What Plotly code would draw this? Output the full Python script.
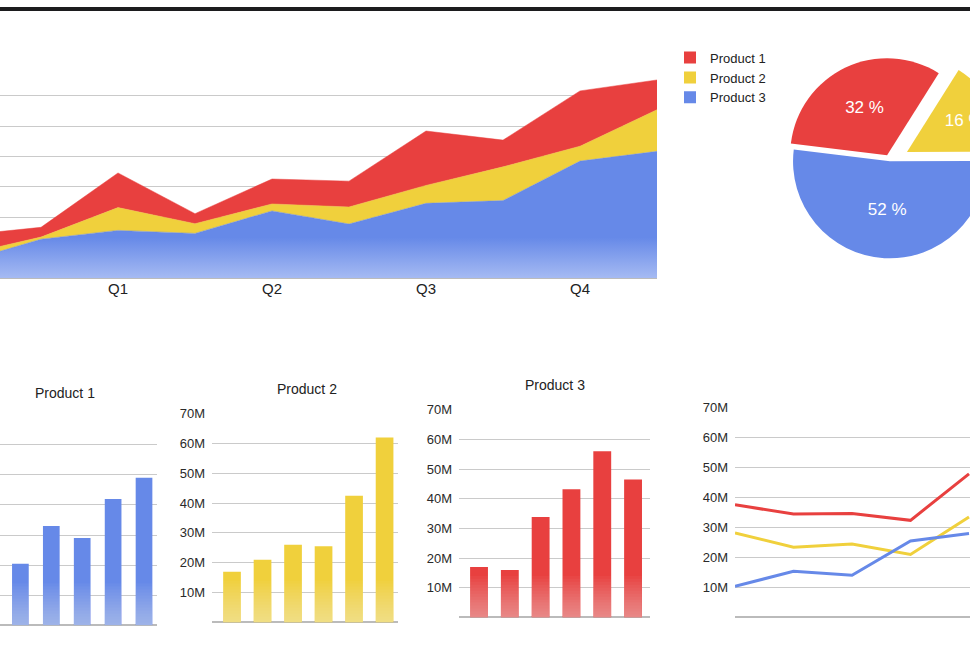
import plotly.graph_objects as go

# ---------------- data ----------------
RED = "#E8403F"
YELLOW = "#F0D03C"
BLUE = "#6689E8"

area_x = list(range(10))
quarter_ticks = [2, 4, 6, 8]
quarter_labels = ["Q1", "Q2", "Q3", "Q4"]
area_p3 = [5.3, 12.8, 15.7, 14.7, 22.1, 17.8, 24.6, 25.5, 38.5, 41.7]
area_p2 = [2.4, 0.7, 7.5, 3.2, 2.3, 5.6, 5.9, 11.1, 4.9, 13.7]
area_p1 = [6.4, 3.2, 11.4, 3.3, 8.2, 8.5, 17.9, 8.8, 18.2, 9.8]

pie_labels = ["Product 1", "Product 2", "Product 3"]
pie_values = [32, 16, 52]

bar_p1_x = [1, 2, 3, 4, 5]
bar_p1 = [20.5, 33, 29, 42, 49]
bar_x = [0, 1, 2, 3, 4, 5]
bar_p2 = [17, 21, 26, 25.5, 42.5, 62]
bar_p3 = [17, 16, 33.8, 43.2, 56, 46.5]

line_x = [0, 1, 2, 3, 4]
line_p1 = [37.6, 34.5, 34.7, 32.4, 47.9]
line_p2 = [28.2, 23.4, 24.5, 21.0, 33.5]
line_p3 = [10.4, 15.4, 14.1, 25.5, 28.0]

y_ticks = [10, 20, 30, 40, 50, 60, 70]
y_tick_labels = [f"{v}M" for v in y_ticks]

# ---------------- layout helpers ----------------
W, H = 1020, 658
FONT = "Liberation Sans, Arial, sans-serif"


def fx(px):
    return px / W


def fy(py):
    return 1 - py / H


GRID = "#CACACA"
ZERO = "#BBBBBB"

fig = go.Figure()

# ---------------- top stacked area ----------------
fig.add_trace(go.Scatter(x=area_x, y=area_p3, stackgroup="one", mode="lines",
                         line=dict(width=0.5, color=BLUE), fillcolor=BLUE,
                         fillgradient=dict(type="vertical", start=0, stop=14,
                                           colorscale=[[0, "#A9BDF3"], [1, BLUE]]),
                         showlegend=False, xaxis="x", yaxis="y", hoverinfo="skip"))
fig.add_trace(go.Scatter(x=area_x, y=area_p2, stackgroup="one", mode="lines",
                         line=dict(width=0.5, color=YELLOW), fillcolor=YELLOW,
                         showlegend=False, xaxis="x", yaxis="y", hoverinfo="skip"))
fig.add_trace(go.Scatter(x=area_x, y=area_p1, stackgroup="one", mode="lines",
                         line=dict(width=0.5, color=RED), fillcolor=RED,
                         showlegend=False, xaxis="x", yaxis="y", hoverinfo="skip"))

# ---------------- pie ----------------
pie_text = [f"{v} %" for v in pie_values]
PCX, PCY, PR, PULL = 890, 156, 98, 0.2
fig.add_trace(go.Pie(labels=pie_labels, values=pie_values, text=pie_text,
                     textinfo="text", sort=False, direction="clockwise",
                     rotation=-83, pull=[0.07, PULL, 0],
                     marker=dict(colors=[RED, YELLOW, BLUE]),
                     textfont=dict(color="white", size=17, family=FONT),
                     insidetextorientation="horizontal",
                     domain=dict(x=[fx(PCX - PR * (1 + PULL)), fx(PCX + PR * (1 + PULL))],
                                 y=[fy(PCY + PR * (1 + PULL)), fy(PCY - PR * (1 + PULL))]),
                     showlegend=True, hoverinfo="skip"))


# ---------------- bar charts ----------------
def add_bars(xs, vals, color, xa, ya, width):
    fig.add_trace(go.Bar(x=xs, y=vals, marker=dict(color=color, line=dict(width=0)),
                         width=width, xaxis=xa, yaxis=ya, showlegend=False,
                         hoverinfo="skip"))
    # lighter fade toward the base
    for k in range(1, 15):
        lvl = 1.0 * k
        fig.add_trace(go.Bar(x=xs, y=[min(v, lvl) for v in vals],
                             marker=dict(color="rgba(255,255,255,0.034)", line=dict(width=0)),
                             width=width, xaxis=xa, yaxis=ya, showlegend=False,
                             hoverinfo="skip"))


add_bars(bar_p1_x, bar_p1, BLUE, "x2", "y2", 0.54)
add_bars(bar_x, bar_p2, YELLOW, "x3", "y3", 0.58)
add_bars(bar_x, bar_p3, RED, "x4", "y4", 0.58)

# ---------------- line chart ----------------
for vals, color in [(line_p1, RED), (line_p2, YELLOW), (line_p3, BLUE)]:
    fig.add_trace(go.Scatter(x=line_x, y=vals, mode="lines",
                             line=dict(color=color, width=3),
                             xaxis="x5", yaxis="y5", showlegend=False, hoverinfo="skip"))

# ---------------- axes ----------------
common_y = dict(range=[0, 70.3], tickmode="array", tickvals=y_ticks, ticktext=y_tick_labels,
                showgrid=True, gridcolor=GRID, gridwidth=1.4, zeroline=True,
                zerolinecolor=ZERO, zerolinewidth=1.6, showline=False, ticks="",
                ticklabelstandoff=6, fixedrange=True,
                tickfont=dict(size=13, color="#2a2a2a", family=FONT))
common_x = dict(showgrid=False, zeroline=False, showline=False, showticklabels=False,
                ticks="", fixedrange=True)


def ydom(p0, p70):
    # pixel rows of 0 and 70 -> domain with the small headroom above 70
    top = p70 - (p0 - p70) * 0.3 / 70
    return [fy(p0), fy(top)]


fig.update_layout(
    width=W, height=H,
    margin=dict(l=0, r=0, t=0, b=0),
    paper_bgcolor="white", plot_bgcolor="rgba(0,0,0,0)",
    font=dict(family=FONT, color="#222222"),
    barmode="overlay",
    xaxis=dict(domain=[0, fx(657)], range=[0.4675, 9], tickvals=quarter_ticks,
               ticktext=quarter_labels, showgrid=False, zeroline=False, showline=False,
               ticks="", tickfont=dict(size=15, color="#222222", family=FONT),
               anchor="y", fixedrange=True),
    yaxis=dict(domain=ydom(274, 59), **{**common_y, "showticklabels": False}, anchor="x"),
    xaxis2=dict(domain=[0, fx(157)], range=[0.34, 5.42], anchor="y2", **common_x),
    yaxis2=dict(domain=ydom(625, 412), **{**common_y, "showticklabels": False}, anchor="x2"),
    xaxis3=dict(domain=[fx(212), fx(398)], range=[-0.656, 5.44], anchor="y3", **common_x),
    yaxis3=dict(domain=ydom(622, 411), **common_y, anchor="x3"),
    xaxis4=dict(domain=[fx(459), fx(650)], range=[-0.65, 5.55], anchor="y4", **common_x),
    yaxis4=dict(domain=ydom(617, 407), **common_y, anchor="x4"),
    xaxis5=dict(domain=[fx(735), fx(970)], range=[0, 4.017], anchor="y5", **common_x),
    yaxis5=dict(domain=ydom(617, 405), **common_y, anchor="x5"),
    legend=dict(x=fx(670), y=fy(36), xanchor="left", yanchor="top",
                traceorder="normal",
                font=dict(size=13, color="#222222", family=FONT),
                bgcolor="rgba(0,0,0,0)", itemclick=False, itemdoubleclick=False),
    shapes=[dict(type="rect", xref="paper", yref="paper", x0=0, x1=1,
                 y0=fy(4), y1=1, fillcolor="#1c1c1e", line=dict(width=0), layer="above")],
    annotations=[
        dict(text="Product 1", x=fx(65), y=fy(390), xref="paper", yref="paper",
             xanchor="center", yanchor="middle", showarrow=False,
             font=dict(size=14, color="#222222", family=FONT)),
        dict(text="Product 2", x=fx(307), y=fy(386), xref="paper", yref="paper",
             xanchor="center", yanchor="middle", showarrow=False,
             font=dict(size=14, color="#222222", family=FONT)),
        dict(text="Product 3", x=fx(555), y=fy(382), xref="paper", yref="paper",
             xanchor="center", yanchor="middle", showarrow=False,
             font=dict(size=14, color="#222222", family=FONT)),
    ],
)

post = ("document.documentElement.style.overflow='hidden';"
        "document.body.style.overflow='hidden';"
        "document.body.style.margin='0';")
fig.write_html("out.html", config={"displayModeBar": False}, post_script=post)
